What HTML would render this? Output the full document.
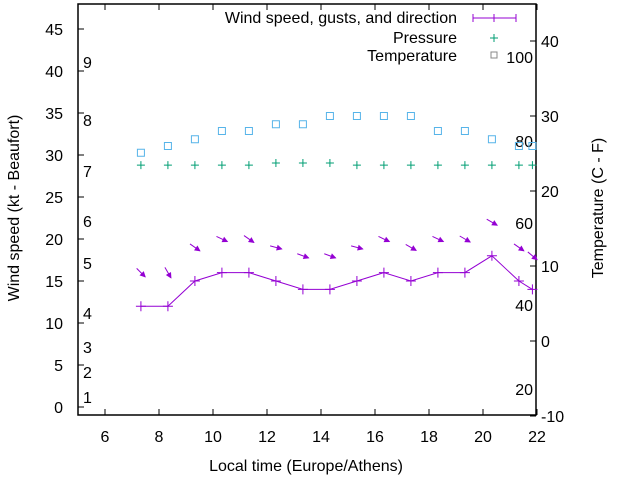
<!DOCTYPE html>
<html><head><meta charset="utf-8"><style>
body{margin:0;background:#fff;}
svg{display:block;font-family:"Liberation Sans",sans-serif;}
</style></head><body>
<svg id="c" width="640" height="480" viewBox="0 0 640 480"></svg>
<script>
const times=[7.33,8.33,9.33,10.33,11.33,12.33,13.33,14.33,15.33,16.33,17.33,18.33,19.33,20.33,21.33,21.83];
const windSpeed=[12,12,15,16,16,15,14,14,15,16,15,16,16,18,15,14];
const gusts=[16,16,19,20,20,19,18,18,19,20,19,20,20,22,19,18];
const windDir=[315,330,305,295,305,285,290,290,285,295,300,295,300,300,305,310];
const pressure=[28.8,28.8,28.8,28.8,28.8,29.05,29.05,29.05,28.8,28.8,28.8,28.8,28.8,28.8,28.8,28.8];
const temperature=[25.1,26,26.9,28,28,28.9,28.9,30,30,30,30,28,28,26.9,26,26];
const xTicks=[6,8,10,12,14,16,18,20,22];
const yTicks=[0,5,10,15,20,25,30,35,40,45];
const y2Ticks=[-10,0,10,20,30,40];
const beaufort=[[1,397],[2,372],[3,347],[4,313],[5,263],[6,221],[7,171],[8,120],[9,62]];
const fahr=[[20,389],[40,305],[60,223],[80,141],[100,57]];

const L=78,R=536,T=4,B=415;
const X=v=>L+(v-5)*27;
const Y=v=>407-v*8.4;
const Y2=v=>341-v*7.5;
const svg=document.getElementById('c');
const NS='http://www.w3.org/2000/svg';
function mk(tag,attrs,parent){const e=document.createElementNS(NS,tag);for(const k in attrs)e.setAttribute(k,attrs[k]);(parent||svg).appendChild(e);return e;}
function txt(s,x,y,anchor,extra){const t=mk('text',Object.assign({x:x,y:y,'font-size':16,fill:'#000','text-anchor':anchor||'start'},extra||{}));t.textContent=s;return t;}

// frame
const fr=mk('rect',{x:L,y:T,width:R-L,height:B-T,fill:'none',stroke:'#000','stroke-width':1.5});


xTicks.forEach(v=>{
  const x=X(v);
  mk('line',{x1:x,y1:B,x2:x,y2:B-6,stroke:'#000'});
  mk('line',{x1:x,y1:T,x2:x,y2:T+6,stroke:'#000'});
  const t=txt(String(v),x,442,'middle');
  
  
});
yTicks.forEach(v=>{
  const y=Y(v);
  mk('line',{x1:L,y1:y,x2:L+6,y2:y,stroke:'#000'});
  const t=txt(String(v),63,y+6,'end');
  
  
});
y2Ticks.forEach(v=>{
  const y=Y2(v);
  mk('line',{x1:R,y1:y,x2:R-6,y2:y,stroke:'#000'});
  const t=txt(String(v),541,y+6,'start');
  
  
});
beaufort.forEach(b=>{const t=txt(String(b[0]),83,b[1]+6,'start');
  
  });
fahr.forEach(b=>{const t=txt(String(b[0]),533,b[1]+6,'end');
  
  });

// axis titles
let t=txt('Local time (Europe/Athens)',306,471,'middle');

t=txt('Wind speed (kt - Beaufort)',0,0,'middle',{transform:'translate(19,208) rotate(-90)'});

t=txt('Temperature (C - F)',0,0,'middle',{transform:'translate(603,208) rotate(-90)'});


const P='#9400d3',G='#009e73',Bl='#56b4e9';
// wind line
const pts=times.map((v,i)=>X(v)+','+Y(windSpeed[i])).join(' ');
const pl=mk('polyline',{points:pts,fill:'none',stroke:P,'stroke-width':1});

times.forEach((v,i)=>{
  const x=X(v),y=Y(windSpeed[i]);
  const g=mk('path',{d:`M${x-5} ${y}H${x+5}M${x} ${y-5}V${y+5}`,stroke:P,'stroke-width':1});
  
  // direction arrow at gust level
  const cx=x,cy=Y(gusts[i]);
  const a=(windDir[i]-270)*Math.PI/180+Math.PI/4*0; // pointing down-right
  const ang=(windDir[i]-270)*Math.PI/180;
  const dx=Math.cos(ang)*6,dy=Math.sin(ang)*6;
  const ar=mk('g',{});
  
  mk('line',{x1:cx-dx,y1:cy-dy,x2:cx+dx,y2:cy+dy,stroke:P,'stroke-width':1},ar);
  const hx=cx+dx,hy=cy+dy,ux=Math.cos(ang),uy=Math.sin(ang);
  mk('polygon',{points:`${hx+ux},${hy+uy} ${hx-5*ux-3*uy},${hy-5*uy+3*ux} ${hx-5*ux+3*uy},${hy-5*uy-3*ux}`,fill:P},ar);
});
// pressure
times.forEach((v,i)=>{
  const x=X(v),y=Y(pressure[i]);
  const g=mk('path',{d:`M${x-4} ${y}H${x+4}M${x} ${y-4}V${y+4}`,stroke:G,'stroke-width':1});
  
});
// temperature
times.forEach((v,i)=>{
  const x=X(v),y=Y2(temperature[i]);
  const r=mk('rect',{x:x-3.5,y:y-3.5,width:7,height:7,fill:'none',stroke:Bl,'stroke-width':1});
  
});

// legend
const lg=mk('g',{});

[['Wind speed, gusts, and direction',23],['Pressure',43],['Temperature',61]].forEach(e=>{
  const tt=mk('text',{x:457,y:e[1],'font-size':16,'text-anchor':'end'},lg);tt.textContent=e[0];
  
});
mk('path',{d:'M473 18H516M473 14V22M516 14V22M494 14V22',stroke:P,'stroke-width':1},lg);
mk('path',{d:'M490 38H498M494 34V42',stroke:G,'stroke-width':1},lg);
mk('rect',{x:491,y:52,width:6,height:6,fill:'none',stroke:'#888','stroke-width':1},lg);
</script>
</body></html>
